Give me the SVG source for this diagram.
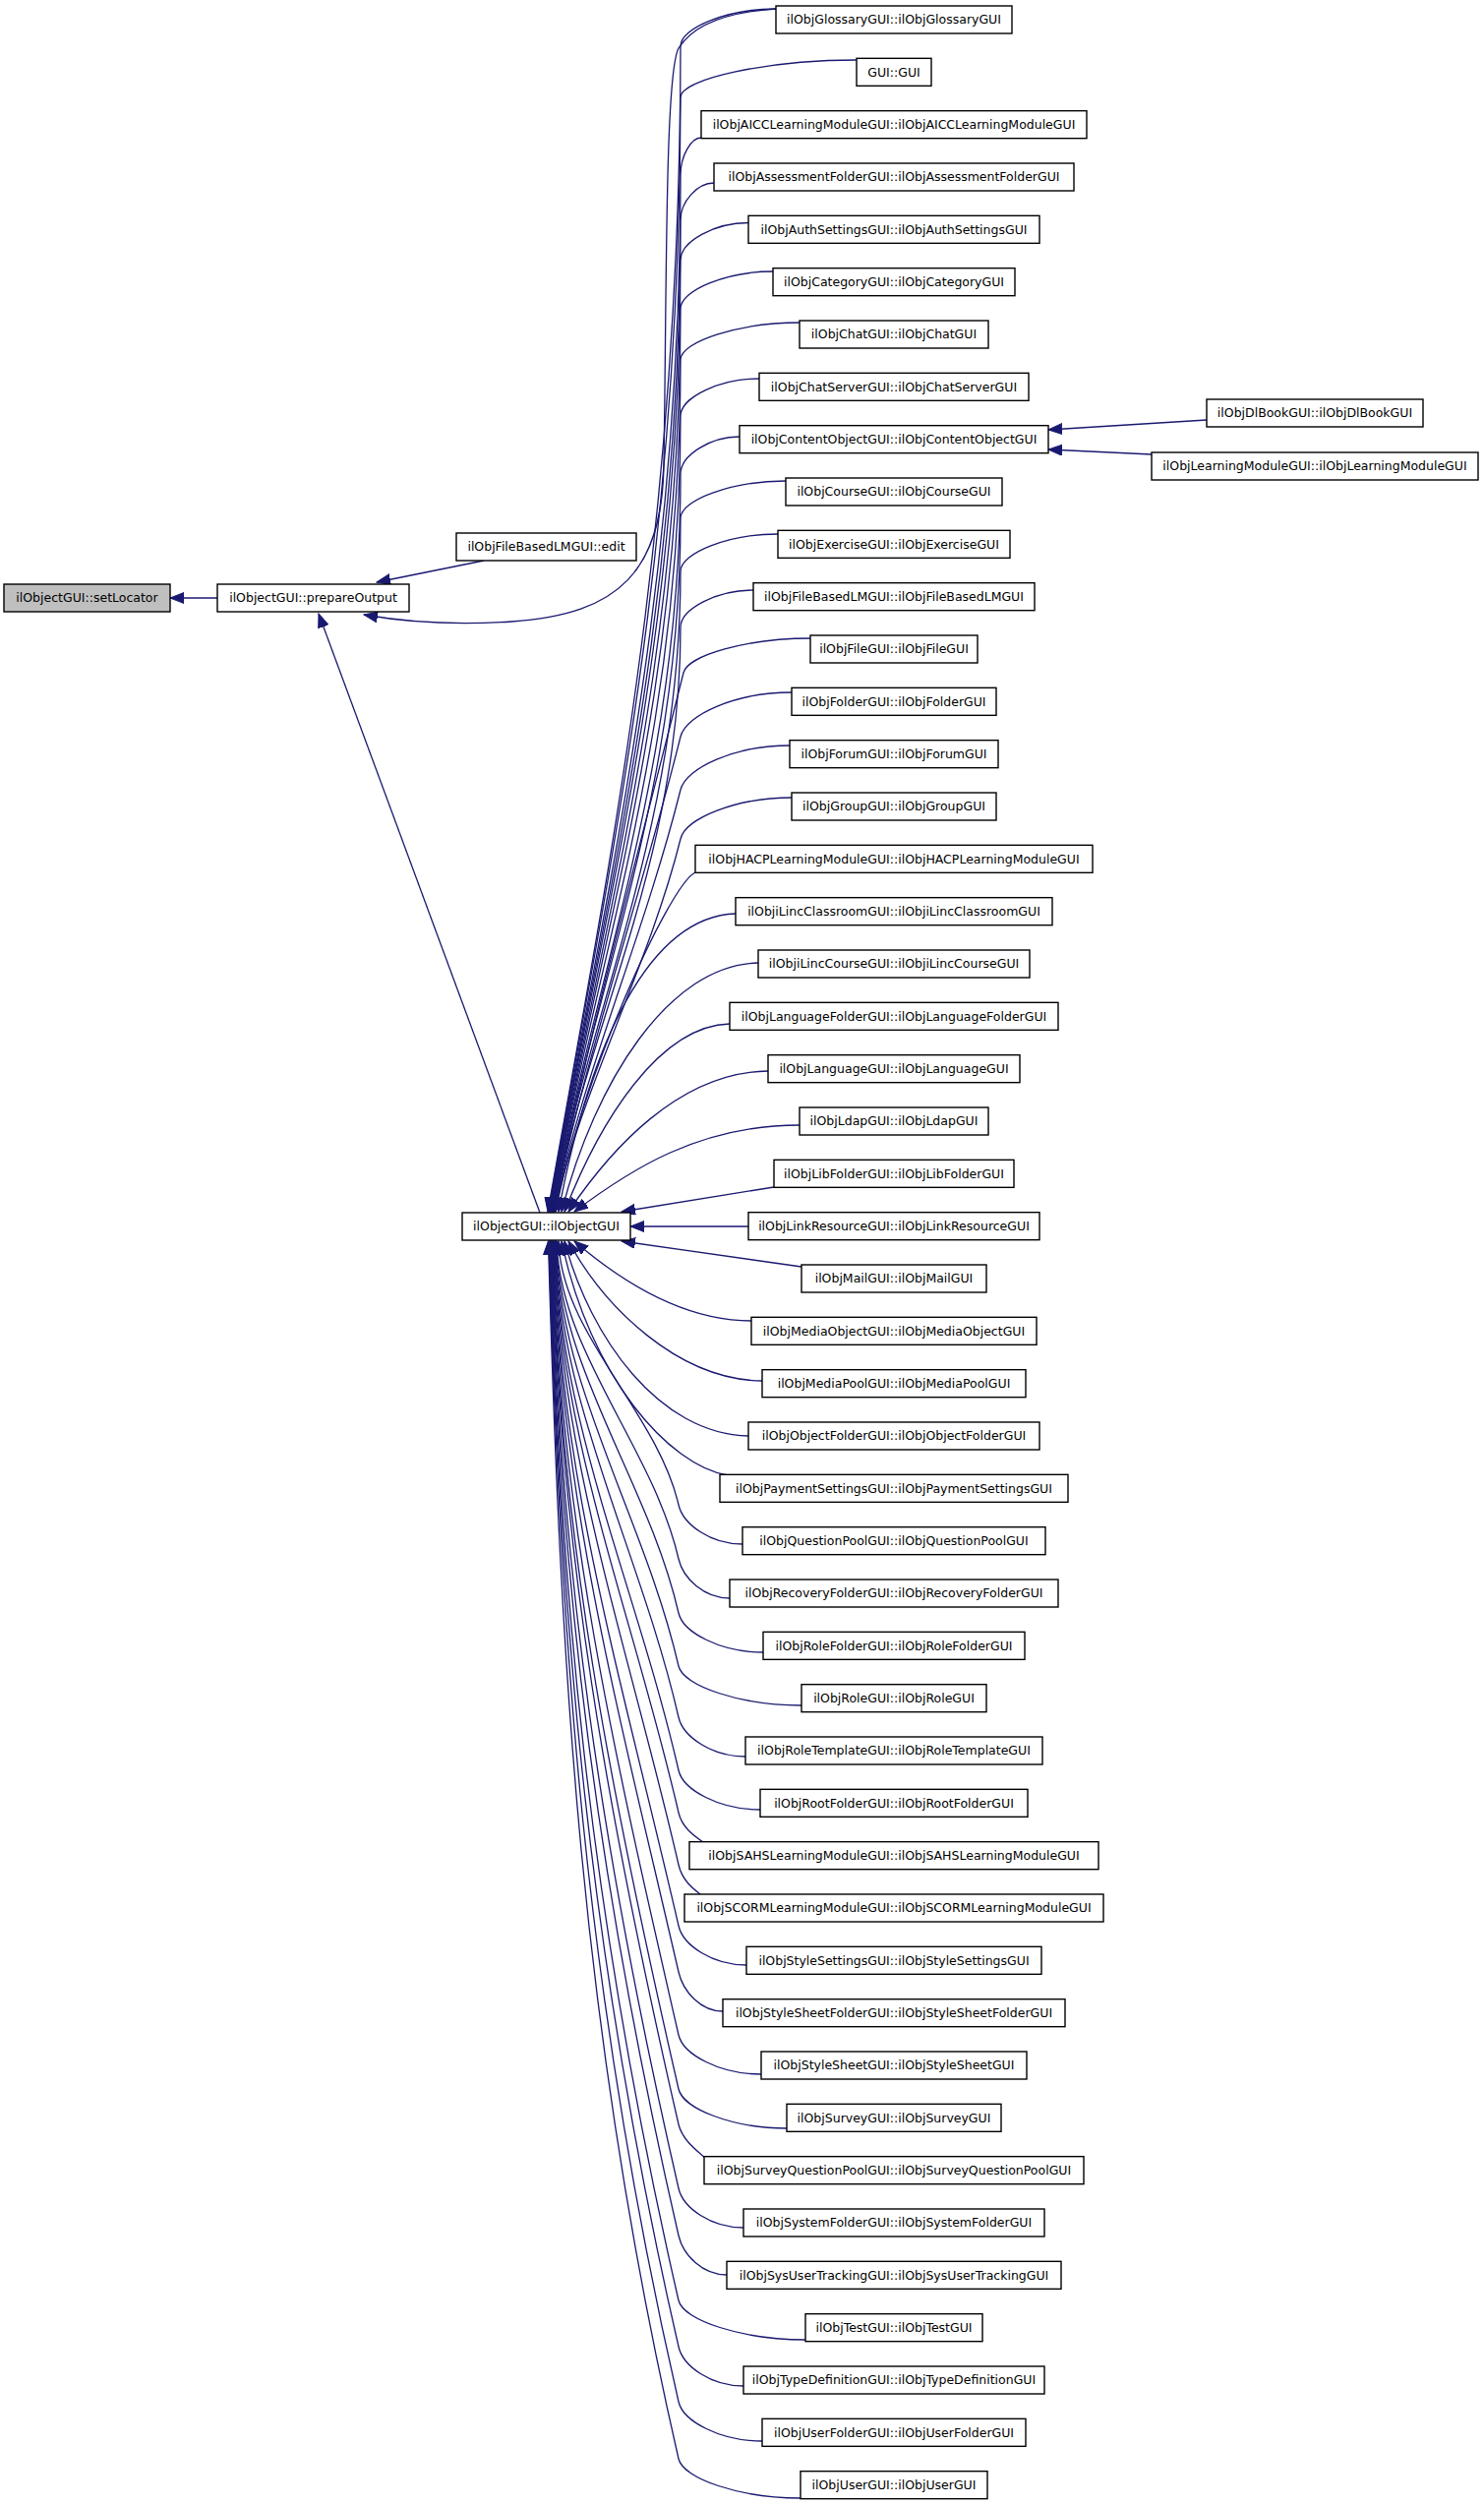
<svg xmlns="http://www.w3.org/2000/svg" width="1509" height="2547" viewBox="0 0 1509 2547">
<defs>
<style>
.n{fill:#fff;stroke:#000;stroke-width:1.4}
.g{fill:#bfbfbf;stroke:#000;stroke-width:1.4}
.t{font-family:"DejaVu Sans",sans-serif;font-size:12.5px;text-anchor:middle;fill:#000}
.e{fill:none;stroke:#191970;stroke-width:1.3;marker-end:url(#ah)}
</style>
<marker id="ah" markerUnits="userSpaceOnUse" markerWidth="16" markerHeight="12" refX="14" refY="5.5" orient="auto"><path d="M0,0 L14,5.5 L0,11 z" fill="#191970" stroke="#191970" stroke-width="1"/></marker>
</defs>
<rect width="1509" height="2547" fill="#fff"/>
<g id="edges">
<path class="e" d="M221,608 L173,608"/>
<path class="e" d="M492,570 L383,592"/>
<path class="e" d="M549,1233 L324,624"/>
<path class="e" d="M789,9 C740,12 705,25 690,49 C676,75 678,300 675,470 C674,580 630,625 520,632 C460,636 410,632 370,625"/>
<path class="e" d="M1227,427 L1066,437"/>
<path class="e" d="M1171,462 L1066,457"/>
<path class="e" d="M789,9 C740.5,9 692,28 692,47 C692,521 624.5,853 557,1232"/>
<path class="e" d="M871,61 C781.5,61 692,80 692,99 C692,552 622,869 557.5,1232"/>
<path class="e" d="M713,140 C702.5,140 692,159 692,178 C692,600 618,895 558,1232"/>
<path class="e" d="M726,186 C709,186 692,205 692,224 C692,627 616,909 558.5,1232"/>
<path class="e" d="M761,226.5 C726.5,226.5 692,245.5 692,264.5 C692,651.5 614,922 559,1232"/>
<path class="e" d="M786,276 C739,276 692,295 692,314 C692,681 612,938 559.5,1232"/>
<path class="e" d="M813,328 C752.5,328 692,347 692,366 C692,712 609,955 560,1232"/>
<path class="e" d="M772,385 C732,385 692,404 692,423 C692,746.6 606.5,973 560.5,1232"/>
<path class="e" d="M752,444 C722,444 692,463 692,482 C692,782 604,992 561,1232"/>
<path class="e" d="M799,489 C745.5,489 692,508 692,527 C692,809 601.5,1006 561.5,1232"/>
<path class="e" d="M791,543 C741.5,543 692,562 692,581 C692,841 599,1024 562,1232"/>
<path class="e" d="M766,600 C729,600 692,619 692,638 C692,875.6 596.5,1042 562.5,1232"/>
<path class="e" d="M824,649 C759.5,649 699.4,666.5 695,684 C647,876 594,1068 563,1232"/>
<path class="e" d="M805,704 C748.5,704 697.6,726.5 692,749 C650,918 591,1087 563.5,1232"/>
<path class="e" d="M803,758 C747.5,758 697.6,780.5 692,803 C654.5,953 588.5,1103 564,1232"/>
<path class="e" d="M805,811 C748.5,811 697,832 692,853 C659,985.6 586,1118 564.5,1232"/>
<path class="e" d="M707,887 C680,900 590,1100 565,1232"/>
<path class="e" d="M748,929 C660,932 600,1060 568,1232"/>
<path class="e" d="M771,979 C680,981 605,1100 571,1232"/>
<path class="e" d="M742,1041 C670,1043 610,1140 574,1232"/>
<path class="e" d="M781,1089 C690,1090 620,1170 578,1232"/>
<path class="e" d="M813,1144 C710,1144 640,1190 584,1232"/>
<path class="e" d="M787,1207 L632,1232"/>
<path class="e" d="M761,1247 L641,1247"/>
<path class="e" d="M815,1288 L632,1262"/>
<path class="e" d="M764,1343 C700,1343 640,1310 584,1262"/>
<path class="e" d="M775,1404 C690,1403 615,1330 578,1262"/>
<path class="e" d="M761,1460 C670,1458 600,1360 574,1262"/>
<path class="e" d="M740,1500 C680,1490 600,1400 571,1262"/>
<path class="e" d="M755,1570 C722.5,1570 694.6,1550 690,1530 C668.4,1436 570.7,1356 568,1262"/>
<path class="e" d="M742,1625 C716,1625 694.6,1605 690,1585 C664,1472 569.2,1375 566,1262"/>
<path class="e" d="M776,1680 C733,1680 694.6,1660 690,1640 C659.6,1507.7 569.3,1394.3 565.5,1262"/>
<path class="e" d="M815,1734 C752.5,1734 694.6,1714 690,1694 C655.2,1542.8 569.3,1413.2 565,1262"/>
<path class="e" d="M758,1786 C724,1786 694.6,1766 690,1746 C651,1576.6 569.3,1431.4 564.5,1262"/>
<path class="e" d="M773,1840 C731.5,1840 694.6,1820 690,1800 C646.7,1611.7 569.4,1450.3 564,1262"/>
<path class="e" d="M715,1873 C705,1866 693.5,1858 690,1843 C643.2,1639.6 569.3,1465.4 563.5,1262"/>
<path class="e" d="M712,1926 C703,1919 693.5,1911 690,1896 C639,1674 569.3,1483.9 563,1262"/>
<path class="e" d="M759,1998 C724.5,1998 694.6,1978 690,1958 C634,1714.4 569.5,1505.6 562.5,1262"/>
<path class="e" d="M735,2045 C712.5,2045 694.6,2025 690,2005 C630.2,1745 569.4,1522 562,1262"/>
<path class="e" d="M774,2109 C732,2109 694.6,2089 690,2069 C625,1786.5 569.5,1544.5 561.5,1262"/>
<path class="e" d="M800,2164 C745,2164 694.6,2144 690,2124 C620.6,1822.3 569.6,1563.7 561,1262"/>
<path class="e" d="M717,2194 C708,2186 694,2176 690,2160 C617.7,1845.7 569.5,1576.3 560.5,1262"/>
<path class="e" d="M756,2265 C723,2265 694.6,2245 690,2225 C612.5,1888 569.6,1599 560,1262"/>
<path class="e" d="M739,2313 C714.5,2313 694.6,2293 690,2273 C608.6,1919 569.5,1616 559.5,1262"/>
<path class="e" d="M819,2379 C754.5,2379 694.6,2359 690,2339 C603.3,1962 569.8,1639 559,1262"/>
<path class="e" d="M756,2426 C723,2426 694.6,2406 690,2386 C599.5,1992.6 569.7,1655.4 558.5,1262"/>
<path class="e" d="M775,2482 C732.5,2482 694.6,2462 690,2442 C595,2029 569.8,1675 558,1262"/>
<path class="e" d="M814,2540 C752,2540 694.6,2520 690,2500 C590.3,2066.7 569.9,1695.3 557.5,1262"/>
</g>
<g id="setLocator"><rect class="g" x="4" y="594" width="169" height="28"/><text class="t" x="88.5" y="612.4">ilObjectGUI::setLocator</text></g>
<g id="prepareOutput"><rect class="n" x="221" y="594" width="195" height="28"/><text class="t" x="318.5" y="612.4">ilObjectGUI::prepareOutput</text></g>
<g id="edit"><rect class="n" x="464" y="542" width="183" height="28"/><text class="t" x="555.5" y="560.4">ilObjFileBasedLMGUI::edit</text></g>
<g id="ilObjectGUI"><rect class="n" x="470" y="1233" width="171" height="28"/><text class="t" x="555.5" y="1251.4">ilObjectGUI::ilObjectGUI</text></g>
<g id="DlBook"><rect class="n" x="1227" y="406" width="220" height="28"/><text class="t" x="1337" y="424.4">ilObjDlBookGUI::ilObjDlBookGUI</text></g>
<g id="LearningModule"><rect class="n" x="1171" y="460" width="332" height="28"/><text class="t" x="1337" y="478.4">ilObjLearningModuleGUI::ilObjLearningModuleGUI</text></g>
<g id="r0"><rect class="n" x="789" y="6" width="240" height="28"/><text class="t" x="909" y="24.4">ilObjGlossaryGUI::ilObjGlossaryGUI</text></g>
<g id="r1"><rect class="n" x="871" y="59.33" width="76" height="28"/><text class="t" x="909" y="77.7">GUI::GUI</text></g>
<g id="r2"><rect class="n" x="713" y="112.67" width="392" height="28"/><text class="t" x="909" y="131.1">ilObjAICCLearningModuleGUI::ilObjAICCLearningModuleGUI</text></g>
<g id="r3"><rect class="n" x="726" y="166" width="366" height="28"/><text class="t" x="909" y="184.4">ilObjAssessmentFolderGUI::ilObjAssessmentFolderGUI</text></g>
<g id="r4"><rect class="n" x="761" y="219.33" width="296" height="28"/><text class="t" x="909" y="237.7">ilObjAuthSettingsGUI::ilObjAuthSettingsGUI</text></g>
<g id="r5"><rect class="n" x="786" y="272.67" width="246" height="28"/><text class="t" x="909" y="291.1">ilObjCategoryGUI::ilObjCategoryGUI</text></g>
<g id="r6"><rect class="n" x="813" y="326" width="192" height="28"/><text class="t" x="909" y="344.4">ilObjChatGUI::ilObjChatGUI</text></g>
<g id="r7"><rect class="n" x="772" y="379.33" width="274" height="28"/><text class="t" x="909" y="397.7">ilObjChatServerGUI::ilObjChatServerGUI</text></g>
<g id="r8"><rect class="n" x="752" y="432.67" width="314" height="28"/><text class="t" x="909" y="451.1">ilObjContentObjectGUI::ilObjContentObjectGUI</text></g>
<g id="r9"><rect class="n" x="799" y="486" width="220" height="28"/><text class="t" x="909" y="504.4">ilObjCourseGUI::ilObjCourseGUI</text></g>
<g id="r10"><rect class="n" x="791" y="539.33" width="236" height="28"/><text class="t" x="909" y="557.7">ilObjExerciseGUI::ilObjExerciseGUI</text></g>
<g id="r11"><rect class="n" x="766" y="592.67" width="286" height="28"/><text class="t" x="909" y="611.1">ilObjFileBasedLMGUI::ilObjFileBasedLMGUI</text></g>
<g id="r12"><rect class="n" x="824" y="646" width="170" height="28"/><text class="t" x="909" y="664.4">ilObjFileGUI::ilObjFileGUI</text></g>
<g id="r13"><rect class="n" x="805" y="699.33" width="208" height="28"/><text class="t" x="909" y="717.7">ilObjFolderGUI::ilObjFolderGUI</text></g>
<g id="r14"><rect class="n" x="803" y="752.67" width="212" height="28"/><text class="t" x="909" y="771.1">ilObjForumGUI::ilObjForumGUI</text></g>
<g id="r15"><rect class="n" x="805" y="806" width="208" height="28"/><text class="t" x="909" y="824.4">ilObjGroupGUI::ilObjGroupGUI</text></g>
<g id="r16"><rect class="n" x="707" y="859.33" width="404" height="28"/><text class="t" x="909" y="877.7">ilObjHACPLearningModuleGUI::ilObjHACPLearningModuleGUI</text></g>
<g id="r17"><rect class="n" x="748" y="912.67" width="322" height="28"/><text class="t" x="909" y="931.1">ilObjiLincClassroomGUI::ilObjiLincClassroomGUI</text></g>
<g id="r18"><rect class="n" x="771" y="966" width="276" height="28"/><text class="t" x="909" y="984.4">ilObjiLincCourseGUI::ilObjiLincCourseGUI</text></g>
<g id="r19"><rect class="n" x="742" y="1019.33" width="334" height="28"/><text class="t" x="909" y="1037.7">ilObjLanguageFolderGUI::ilObjLanguageFolderGUI</text></g>
<g id="r20"><rect class="n" x="781" y="1072.67" width="256" height="28"/><text class="t" x="909" y="1091.1">ilObjLanguageGUI::ilObjLanguageGUI</text></g>
<g id="r21"><rect class="n" x="813" y="1126" width="192" height="28"/><text class="t" x="909" y="1144.4">ilObjLdapGUI::ilObjLdapGUI</text></g>
<g id="r22"><rect class="n" x="787" y="1179.33" width="244" height="28"/><text class="t" x="909" y="1197.7">ilObjLibFolderGUI::ilObjLibFolderGUI</text></g>
<g id="r23"><rect class="n" x="761" y="1232.67" width="296" height="28"/><text class="t" x="909" y="1251.1">ilObjLinkResourceGUI::ilObjLinkResourceGUI</text></g>
<g id="r24"><rect class="n" x="815" y="1286" width="188" height="28"/><text class="t" x="909" y="1304.4">ilObjMailGUI::ilObjMailGUI</text></g>
<g id="r25"><rect class="n" x="764" y="1339.33" width="290" height="28"/><text class="t" x="909" y="1357.7">ilObjMediaObjectGUI::ilObjMediaObjectGUI</text></g>
<g id="r26"><rect class="n" x="775" y="1392.67" width="268" height="28"/><text class="t" x="909" y="1411.1">ilObjMediaPoolGUI::ilObjMediaPoolGUI</text></g>
<g id="r27"><rect class="n" x="761" y="1446" width="296" height="28"/><text class="t" x="909" y="1464.4">ilObjObjectFolderGUI::ilObjObjectFolderGUI</text></g>
<g id="r28"><rect class="n" x="732" y="1499.33" width="354" height="28"/><text class="t" x="909" y="1517.7">ilObjPaymentSettingsGUI::ilObjPaymentSettingsGUI</text></g>
<g id="r29"><rect class="n" x="755" y="1552.67" width="308" height="28"/><text class="t" x="909" y="1571.1">ilObjQuestionPoolGUI::ilObjQuestionPoolGUI</text></g>
<g id="r30"><rect class="n" x="742" y="1606" width="334" height="28"/><text class="t" x="909" y="1624.4">ilObjRecoveryFolderGUI::ilObjRecoveryFolderGUI</text></g>
<g id="r31"><rect class="n" x="776" y="1659.33" width="266" height="28"/><text class="t" x="909" y="1677.7">ilObjRoleFolderGUI::ilObjRoleFolderGUI</text></g>
<g id="r32"><rect class="n" x="815" y="1712.67" width="188" height="28"/><text class="t" x="909" y="1731.1">ilObjRoleGUI::ilObjRoleGUI</text></g>
<g id="r33"><rect class="n" x="758" y="1766" width="302" height="28"/><text class="t" x="909" y="1784.4">ilObjRoleTemplateGUI::ilObjRoleTemplateGUI</text></g>
<g id="r34"><rect class="n" x="773" y="1819.33" width="272" height="28"/><text class="t" x="909" y="1837.7">ilObjRootFolderGUI::ilObjRootFolderGUI</text></g>
<g id="r35"><rect class="n" x="701" y="1872.67" width="416" height="28"/><text class="t" x="909" y="1891.1">ilObjSAHSLearningModuleGUI::ilObjSAHSLearningModuleGUI</text></g>
<g id="r36"><rect class="n" x="696" y="1926" width="426" height="28"/><text class="t" x="909" y="1944.4">ilObjSCORMLearningModuleGUI::ilObjSCORMLearningModuleGUI</text></g>
<g id="r37"><rect class="n" x="759" y="1979.33" width="300" height="28"/><text class="t" x="909" y="1997.7">ilObjStyleSettingsGUI::ilObjStyleSettingsGUI</text></g>
<g id="r38"><rect class="n" x="735" y="2032.67" width="348" height="28"/><text class="t" x="909" y="2051.1">ilObjStyleSheetFolderGUI::ilObjStyleSheetFolderGUI</text></g>
<g id="r39"><rect class="n" x="774" y="2086" width="270" height="28"/><text class="t" x="909" y="2104.4">ilObjStyleSheetGUI::ilObjStyleSheetGUI</text></g>
<g id="r40"><rect class="n" x="800" y="2139.33" width="218" height="28"/><text class="t" x="909" y="2157.7">ilObjSurveyGUI::ilObjSurveyGUI</text></g>
<g id="r41"><rect class="n" x="716" y="2192.67" width="386" height="28"/><text class="t" x="909" y="2211.1">ilObjSurveyQuestionPoolGUI::ilObjSurveyQuestionPoolGUI</text></g>
<g id="r42"><rect class="n" x="756" y="2246" width="306" height="28"/><text class="t" x="909" y="2264.4">ilObjSystemFolderGUI::ilObjSystemFolderGUI</text></g>
<g id="r43"><rect class="n" x="739" y="2299.33" width="340" height="28"/><text class="t" x="909" y="2317.7">ilObjSysUserTrackingGUI::ilObjSysUserTrackingGUI</text></g>
<g id="r44"><rect class="n" x="819" y="2352.67" width="180" height="28"/><text class="t" x="909" y="2371.1">ilObjTestGUI::ilObjTestGUI</text></g>
<g id="r45"><rect class="n" x="756" y="2406" width="306" height="28"/><text class="t" x="909" y="2424.4">ilObjTypeDefinitionGUI::ilObjTypeDefinitionGUI</text></g>
<g id="r46"><rect class="n" x="775" y="2459.33" width="268" height="28"/><text class="t" x="909" y="2477.7">ilObjUserFolderGUI::ilObjUserFolderGUI</text></g>
<g id="r47"><rect class="n" x="814" y="2512.67" width="190" height="28"/><text class="t" x="909" y="2531.1">ilObjUserGUI::ilObjUserGUI</text></g>
</svg>
